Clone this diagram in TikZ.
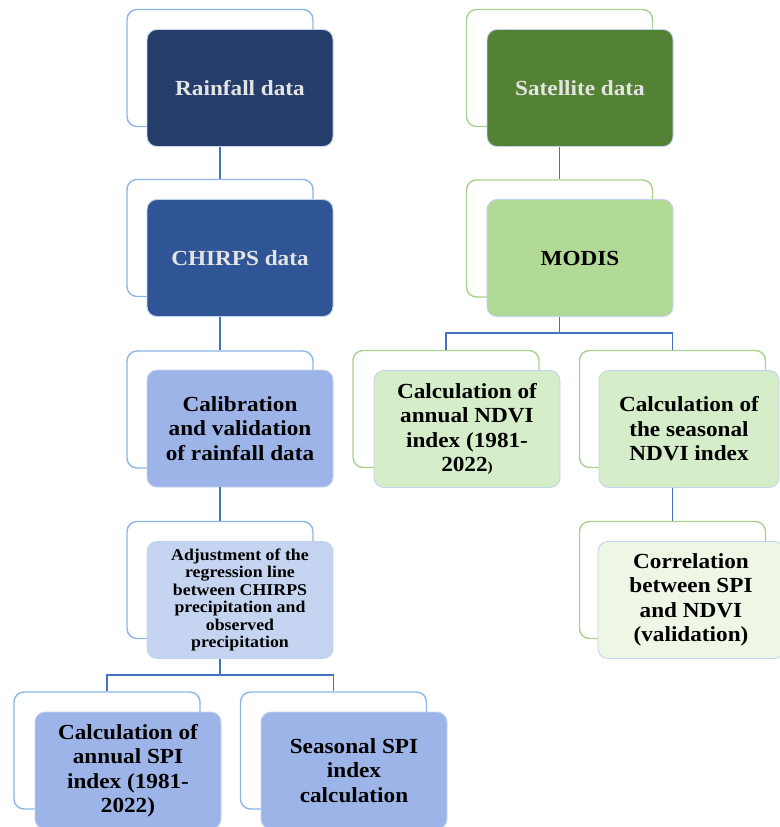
\documentclass[tikz,border=0pt]{standalone}
\usepackage{fontspec}
\setmainfont{Liberation Serif}[FakeStretch=1.08]
\definecolor{rainC}{HTML}{253D6B}
\definecolor{chirpsC}{HTML}{2F5597}
\definecolor{calibC}{HTML}{9CB4E8}
\definecolor{adjC}{HTML}{C5D5F1}
\definecolor{frontBd}{HTML}{C3D2EE}
\definecolor{blueFrame}{HTML}{8AB6E8}
\definecolor{satC}{HTML}{548235}
\definecolor{modisC}{HTML}{B1DA96}
\definecolor{ndviC}{HTML}{D5EDC8}
\definecolor{corrC}{HTML}{EEF7E6}
\definecolor{greenFrame}{HTML}{A9D18E}
\definecolor{lightTxt}{HTML}{E4E4E4}
\definecolor{connC}{HTML}{4472C4}
\tikzset{
  backbox/.style={draw=#1, line width=1.4pt, rounded corners=10pt, minimum width=186pt, minimum height=117pt, inner sep=0pt},
  frontbox/.style={fill=#1, draw=frontBd, line width=0.9pt, rounded corners=10pt, minimum width=186pt, minimum height=117pt, inner sep=0pt, align=center, font=\fontsize{21.5}{24.5}\selectfont\bfseries},
  smalltxt/.style={font=\fontsize{16.5}{17.5}\selectfont\bfseries},
  conn/.style={draw=connC, line width=1.3pt}
}
\begin{document}
\begin{tikzpicture}[x=1pt,y=-1pt]
\useasboundingbox (0,0) rectangle (779,827);
% ---- left column ----
\node[backbox=blueFrame] (rainB) at (220,68) {};
\node[frontbox=rainC, text=lightTxt] (rainF) at (240,88) {Rainfall data};
\node[backbox=blueFrame] (chirpsB) at (220,238) {};
\node[frontbox=chirpsC, text=lightTxt] (chirpsF) at (240,258) {CHIRPS data};
\node[backbox=blueFrame] (calB) at (220,409.5) {};
\node[frontbox=calibC] (calF) at (240,428.5) {Calibration\\and validation\\of rainfall data};
\node[backbox=blueFrame] (adjB) at (220,580) {};
\node[frontbox=adjC, smalltxt] (adjF) at (240,600) {Adjustment of the\\regression line\\between CHIRPS\\precipitation and\\observed\\precipitation};
\node[backbox=blueFrame] (spiaB) at (107,750.5) {};
\node[frontbox=calibC] (spiaF) at (128,770.5) {Calculation of\\annual SPI\\index (1981-\\2022)};
\node[backbox=blueFrame] (spisB) at (333.5,750.5) {};
\node[frontbox=calibC] (spisF) at (354,770.5) {Seasonal SPI\\index\\calculation};
% ---- right column ----
\node[backbox=greenFrame] (satB) at (559.5,68) {};
\node[frontbox=satC, text=lightTxt] (satF) at (580,88) {Satellite data};
\node[backbox=greenFrame] (modB) at (559.5,238.5) {};
\node[frontbox=modisC] (modF) at (580,258) {MODIS};
\node[backbox=greenFrame] (ndaB) at (446,409) {};
\node[frontbox=ndviC] (ndaF) at (467,429) {Calculation of\\annual NDVI\\index (1981-\\2022{\fontsize{14}{14}\selectfont )}};
\node[backbox=greenFrame] (ndsB) at (672.5,409) {};
\node[frontbox=ndviC, minimum width=180pt] (ndsF) at (689,429) {Calculation of\\the seasonal\\NDVI index};
\node[backbox=greenFrame] (corB) at (672.5,580) {};
\node[frontbox=corrC] (corF) at (691,600) {Correlation\\between SPI\\and NDVI\\(validation)};
% ---- connectors ----
\draw[conn] (rainB.center |- rainF.south) -- (chirpsB.north);
\draw[conn] (chirpsB.center |- chirpsF.south) -- (calB.north);
\draw[conn] (calB.center |- calF.south) -- (adjB.north);
\coordinate (lbar) at (220,675);
\draw[conn] (adjB.center |- adjF.south) -- (lbar);
\draw[conn] (spiaB.north) |- (lbar) -| (spisB.north);
\draw[conn] (satB.center |- satF.south) -- (modB.north);
\coordinate (rbar) at (559.5,333);
\draw[conn] (modB.center |- modF.south) -- (rbar);
\draw[conn] (ndaB.north) |- (rbar) -| (ndsB.north);
\draw[conn] (ndsB.center |- ndsF.south) -- (corB.north);
\end{tikzpicture}
\end{document}
